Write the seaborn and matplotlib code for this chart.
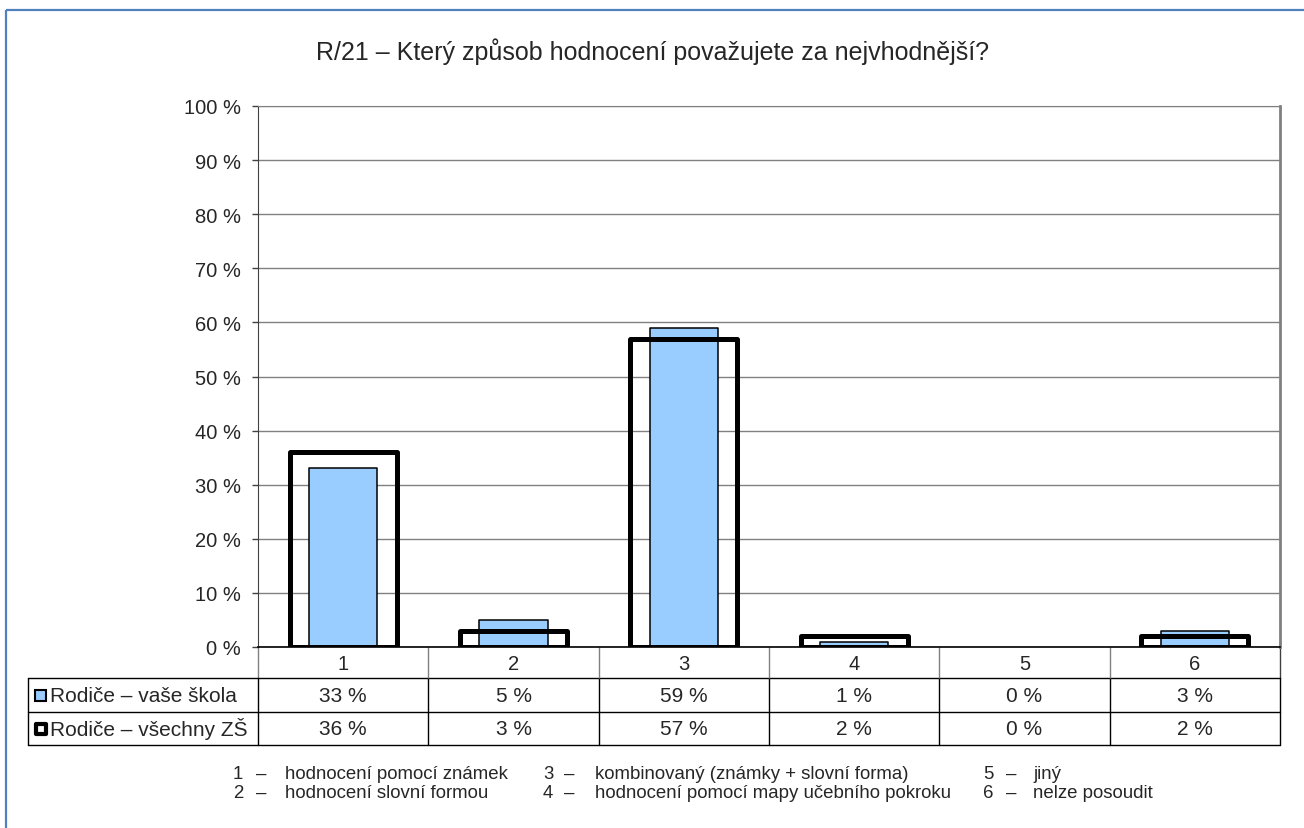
import numpy as np
import pandas as pd
import matplotlib
matplotlib.use('Agg')
import matplotlib.pyplot as plt
import matplotlib.transforms as mtransforms
from matplotlib.patches import Rectangle
import seaborn as sns

# data
categories = ['1', '2', '3', '4', '5', '6']
vase_skola = [33, 5, 59, 1, 0, 3]
vsechny_zs = [36, 3, 57, 2, 0, 2]
series_names = ['Rodiče – vaše škola', 'Rodiče – všechny ZŠ']
title = 'R/21 – Který způsob hodnocení považujete za nejvhodnější?'
yticks = [0, 10, 20, 30, 40, 50, 60, 70, 80, 90, 100]
footnote_nums = ['1', '2', '3', '4', '5', '6']
footnote_labels = ['hodnocení pomocí známek', 'hodnocení slovní formou',
                   'kombinovaný (známky + slovní forma)', 'hodnocení pomocí mapy učebního pokroku',
                   'jiný', 'nelze posoudit']

sns.set_style('white')
plt.rcParams['font.family'] = ['Liberation Sans', 'DejaVu Sans']

W, H = 1304, 829
fig = plt.figure(figsize=(W / 100, H / 100), dpi=100)

# plot area in pixels
left, right, top, bottom = 258, 1280, 107, 648
ax = fig.add_axes([left / W, 1 - bottom / H, (right - left) / W, (bottom - top) / H])

df = pd.DataFrame({'cat': categories, 'skola': vase_skola, 'vsechny': vsechny_zs})

sns.barplot(data=df, x='cat', y='skola', color='#99CCFF', width=0.40,
            edgecolor='black', linewidth=1.1, saturation=1, ax=ax, zorder=3)
sns.barplot(data=df, x='cat', y='vsechny', color='black', width=0.63,
            fill=False, linewidth=3.6, ax=ax, zorder=4)
for p in ax.patches:
    if p.get_height() == 0:
        p.set_visible(False)
    else:
        p.set_joinstyle('round')

ax.set_xlim(-0.5, 5.5)
ax.set_ylim(0, 100)
ax.set_yticks(yticks)
ax.set_yticklabels([f'{v} %' for v in yticks], fontsize=14.5)
ax.set_xlabel('')
ax.set_ylabel('')
ax.yaxis.grid(True, color='#808080', linewidth=1)
ax.set_axisbelow(True)
ax.tick_params(axis='y', left=True, length=4.5, width=1, color='#404040', pad=8)
ax.set_xticks(range(len(categories)))
ax.set_xticklabels(categories, fontsize=14.5)
ax.tick_params(axis='x', which='major', length=0, pad=5)
ax.set_xticks(np.arange(0.5, len(categories) - 1, 1), minor=True)
ax.tick_params(axis='x', which='minor', bottom=True, length=22.3, width=1, color='#808080')
for s in ['top', 'right']:
    ax.spines[s].set_color('#808080')
ax.spines['right'].set_linewidth(2)
ax.spines['left'].set_color('#404040')
ax.spines['bottom'].set_color('black')
ax.spines['bottom'].set_linewidth(1.2)

# overlay in pixel coordinates for the data table and footnote
ov = fig.add_axes([0, 0, 1, 1], zorder=-1)
ov.set_xlim(0, W)
ov.set_ylim(H, 0)
ov.axis('off')
ov.patch.set_visible(False)

# figure border (only top/left visible in the reference)
ov.add_patch(Rectangle((6, 11), 1400, 900, fill=False, edgecolor='#4F81BD', linewidth=1.6))

fig.text(0.5, 1 - 52 / H, title, ha='center', va='center', fontsize=18)

# table geometry
cat_row = (648, 679)
rows = [(679, 713), (713, 746)]
tbl_left = 28
bounds_x = np.arange(-0.5, len(categories) + 0.5, 1)
blend = mtransforms.blended_transform_factory(ax.transData, ov.transData)

# category row vertical edges
ov.plot([left, left], [cat_row[0], cat_row[1]], color='#808080', lw=1)
ov.plot([right, right], [cat_row[0], cat_row[1]], color='#404040', lw=1)

# table lines
for y in [rows[0][0], rows[0][1], rows[1][1]]:
    ov.plot([tbl_left, right], [y, y], color='black', lw=1)
for xb in bounds_x:
    ov.plot([xb, xb], [rows[0][0], rows[1][1]], color='black', lw=1, transform=blend)
ov.plot([tbl_left, tbl_left], [rows[0][0], rows[1][1]], color='black', lw=1)

values = [vase_skola, vsechny_zs]
for r, (y0, y1) in enumerate(rows):
    yc = (y0 + y1) / 2
    if r == 0:
        ov.add_patch(Rectangle((35, yc - 5.5), 11, 11, facecolor='#99CCFF', edgecolor='black', lw=1.5))
    else:
        ov.add_patch(Rectangle((35.5, yc - 5), 10, 10, facecolor='white', edgecolor='black', lw=3,
                               joinstyle='round'))
    ov.text(50, yc, series_names[r], ha='left', va='center', fontsize=15)
    for i, v in enumerate(values[r]):
        ov.text(i, yc, f'{v} %', ha='center', va='center', fontsize=15, transform=blend)

# footnote legend in three columns
col_x = [(233, 256, 285), (543, 564, 595), (983, 1006, 1033)]
row_base = [779, 798]
for k, (num, lab) in enumerate(zip(footnote_nums, footnote_labels)):
    cx = col_x[k // 2]
    y = row_base[k % 2]
    ov.text(cx[0], y, num, ha='left', va='baseline', fontsize=13.4)
    ov.text(cx[1], y, '–', ha='left', va='baseline', fontsize=13.4)
    ov.text(cx[2], y, lab, ha='left', va='baseline', fontsize=13.4)

fig.savefig('out.png', dpi=100)
